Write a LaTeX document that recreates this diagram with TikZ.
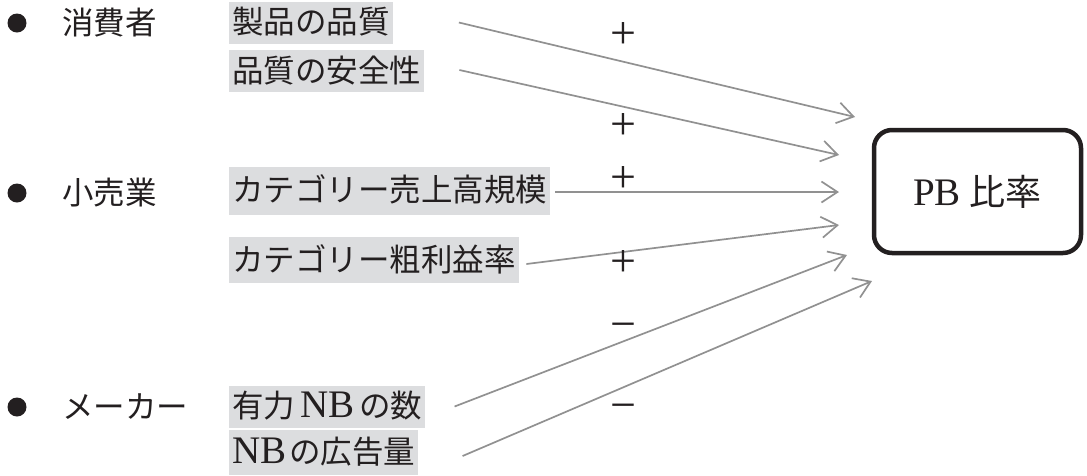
\documentclass[tikz,border=0pt]{standalone}
\usepackage{fontspec}
\setmainfont{Liberation Serif}
\newfontfamily\jp{Noto Sans CJK JP}
\usetikzlibrary{arrows.meta}
\definecolor{lblgray}{RGB}{220,221,223}
\definecolor{arrgray}{RGB}{145,145,145}
\definecolor{ink}{RGB}{35,31,32}
\newcommand\jpsz{\fontsize{31.5}{36}\selectfont\jp}
\newcommand\latsz[1]{{\fontsize{39}{40}\selectfont\rmfamily #1}}
\begin{document}
\begin{tikzpicture}[x=1pt,y=-1pt,
  lbl/.style={fill=lblgray, anchor=west, inner xsep=3pt, inner ysep=0pt,
    text height=32pt, text depth=10pt, font=\jpsz, text=ink},
  cat/.style={anchor=west, inner sep=0pt, font=\jpsz, text=ink},
  bullet/.style={circle, fill=ink, inner sep=0pt, minimum size=19pt},
  sign/.style={inner sep=0pt, font=\fontsize{46}{46}\selectfont, text=ink},
  arr/.style={draw=arrgray, line width=1.7pt,
    -{Straight Barb[length=16pt,width=21pt,line width=1.7pt]}},
  target/.style={draw=ink, line width=4.5pt, rounded corners=18pt,
    minimum width=207pt, minimum height=123pt,
    font=\fontsize{36}{40}\selectfont\jp, text=ink}
]
\useasboundingbox (0,0) rectangle (1087,475);

% bullets and categories
\node[bullet] (b1) at (17,23) {};
\node[bullet] (b2) at (17,193) {};
\node[bullet] (b3) at (17,407) {};
\node[cat] (c1) at (62,23) {消費者};
\node[cat] (c2) at (62,193) {小売業};
\node[cat] (c3) at (62,407) {メーカー};

% factor labels
\node[lbl] (l1) at (229,22.5) {製品の品質};
\node[lbl] (l2) at (229,71) {品質の安全性};
\node[lbl, text height=35pt, text depth=13pt] (l3) at (229,190.5) {カテゴリー売上高規模};
\node[lbl, text height=34pt, text depth=12pt] (l4) at (229,260) {カテゴリー粗利益率};
\node[lbl] (l5) at (229,406.5) {有力\hspace{5pt}\latsz{NB}\hspace{5pt}の数};
\node[lbl, text height=33pt, text depth=12pt] (l6) at (229,452.5) {\latsz{NB}\hspace{3pt}の広告量};

% target
\node[target] (pb) at (977.5,191.5) {\latsz{PB}\hspace{9pt}比率};

% arrow end points
\coordinate (e1) at (855,117);
\coordinate (e2) at (839,155);
\coordinate (e3) at (839,192);
\coordinate (e4) at (839,225);
\coordinate (e5) at (847,255);
\coordinate (e6) at (872,281);

\draw[arr] ([xshift=66pt]l1.east) -- (e1);
\draw[arr] ([xshift=35pt,yshift=1pt]l2.east) -- (e2);
\draw[arr] ([xshift=5pt,yshift=-1.5pt]l3.east) -- (e3);
\draw[arr] ([xshift=7.5pt,yshift=-4pt]l4.east) -- (e4);
\draw[arr] ([xshift=29pt]l5.east) -- (e5);
\draw[arr] ([xshift=44pt,yshift=-3.5pt]l6.east) -- (e6);

% signs
\node[sign] (s1) at (623,36) {+};
\node[sign] (s2) at (623,126) {+};
\node[sign] (s3) at (623,179) {+};
\node[sign] (s4) at (623,263) {+};
\node[sign] (s5) at (623,331) {−};
\node[sign] (s6) at (623,412) {−};
\end{tikzpicture}
\end{document}
